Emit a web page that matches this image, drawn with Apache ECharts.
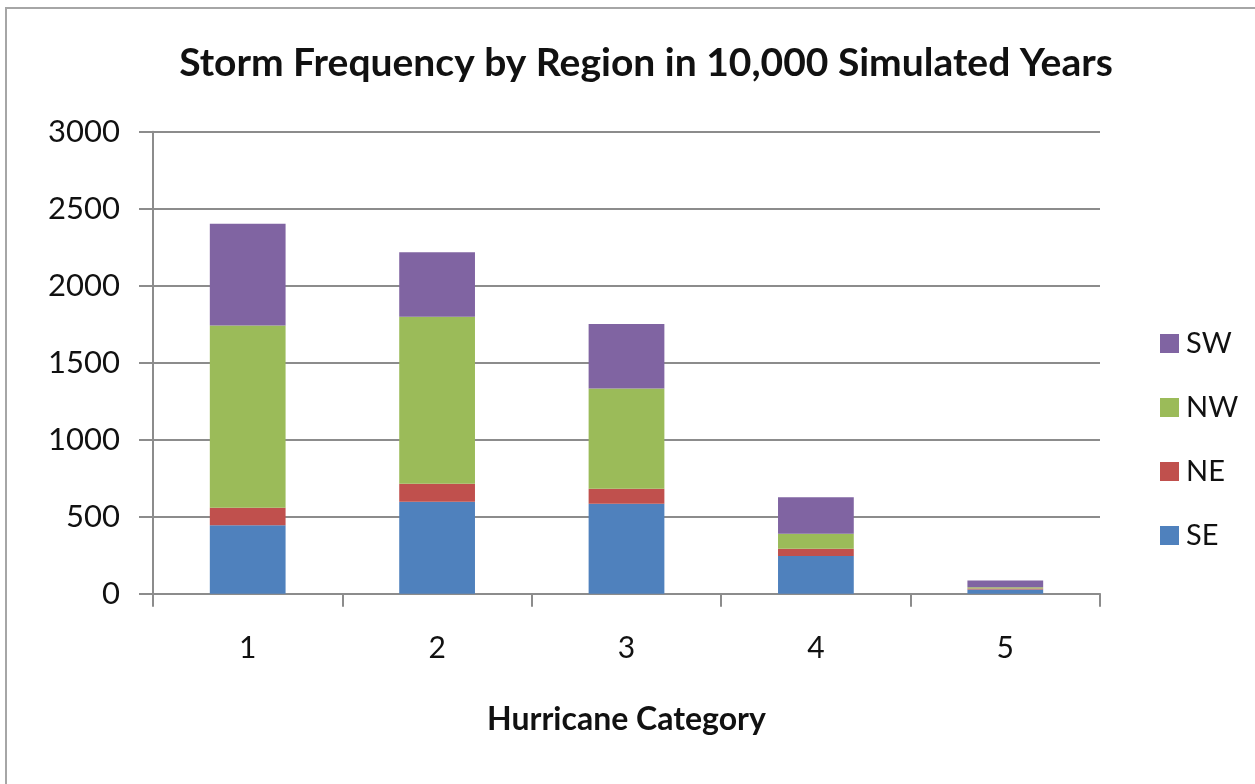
<!DOCTYPE html>
<html>
<head>
<meta charset="utf-8">
<script src="https://cdn.jsdelivr.net/npm/echarts@6/dist/echarts.min.js"></script>
<style>
  html, body { margin: 0; padding: 0; background: #fff; }
  #frame { position: absolute; left: 5px; top: 7px; width: 1300px; height: 840px;
           border: 2px solid #a6a6a6; box-sizing: border-box; pointer-events: none; }
  #chart { position: absolute; left: 0; top: 0; width: 1255px; height: 784px; }
</style>
</head>
<body>
<div id="chart"></div>
<div id="frame"></div>
<script>
// Hurricane categories and storm counts per region (10,000 simulated years)
const categories = ['1', '2', '3', '4', '5'];
const seValues = [445, 597, 584, 244, 28];
const neValues = [113, 117, 97, 48, 6];
const nwValues = [1184, 1084, 651, 97, 8];
const swValues = [660, 419, 420, 238, 44];
const yTicks = [0, 500, 1000, 1500, 2000, 2500, 3000];

const FONT = 'Lato, "Open Sans", sans-serif';
const colors = { SE: '#4f81bd', NE: '#c0504d', NW: '#9bbb59', SW: '#8064a2' };

const chart = echarts.init(document.getElementById('chart'), null, { renderer: 'canvas' });

function barSeries(name, values) {
  return {
    name: name,
    type: 'bar',
    stack: 'total',
    data: values,
    barWidth: '40%',
    itemStyle: { color: colors[name] },
    emphasis: { disabled: true }
  };
}

chart.setOption({
  animation: false,
  backgroundColor: 'transparent',
  title: {
    text: 'Storm Frequency by Region in 10,000 Simulated Years',
    left: 641, top: 39, textAlign: 'center',
    textStyle: { fontFamily: FONT, fontWeight: 'bold', fontSize: 39, color: '#111' }
  },
  legend: {
    orient: 'vertical',
    left: 1155, top: 324,
    itemWidth: 19, itemHeight: 19, itemGap: 35,
    icon: 'rect',
    data: ['SW', 'NW', 'NE', 'SE'],
    textStyle: { fontFamily: FONT, fontSize: 29, color: '#111', padding: [0, 0, 0, 2] }
  },
  grid: { left: 153, right: 155, top: 131.7, bottom: 190.3, containLabel: false },
  xAxis: {
    type: 'category',
    data: categories,
    name: 'Hurricane Category',
    nameLocation: 'middle',
    nameGap: 110,
    nameTextStyle: { fontFamily: FONT, fontWeight: 'bold', fontSize: 32, color: '#111' },
    axisLine: { lineStyle: { color: '#8c8c8c', width: 2 } },
    axisTick: { show: true, length: 13, lineStyle: { color: '#8c8c8c', width: 2 } },
    axisLabel: { fontFamily: FONT, fontSize: 30, color: '#111', margin: 40 }
  },
  yAxis: {
    type: 'value',
    min: yTicks[0],
    max: yTicks[yTicks.length - 1],
    interval: yTicks[1] - yTicks[0],
    axisLine: { show: true, lineStyle: { color: '#8c8c8c', width: 2 } },
    axisTick: { show: true, length: 14, lineStyle: { color: '#8c8c8c', width: 2 } },
    axisLabel: {
      fontFamily: FONT, fontSize: 31, color: '#111', margin: 33,
      formatter: function (v) { return String(v); }
    },
    splitLine: { lineStyle: { color: '#8c8c8c', width: 2 } }
  },
  series: [
    barSeries('SE', seValues),
    barSeries('NE', neValues),
    barSeries('NW', nwValues),
    barSeries('SW', swValues)
  ]
});
</script>
</body>
</html>
